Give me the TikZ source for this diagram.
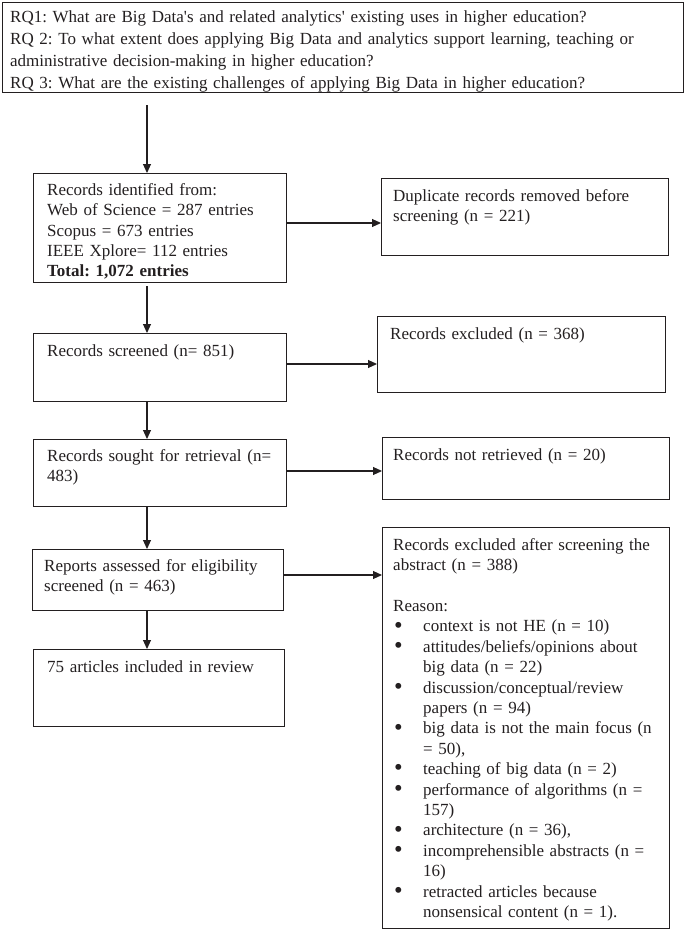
\documentclass[tikz,border=0pt]{standalone}
\usepackage{fontspec}
\setmainfont{Liberation Serif}
\usetikzlibrary{arrows.meta}
\definecolor{ink}{RGB}{35,31,32}
\frenchspacing
\newcommand{\fs}{\rule{0pt}{14pt}}
\newcommand{\bul}{\hspace*{1pt}\makebox[29pt][l]{\smash{\raisebox{-1.2pt}{\scalebox{1.45}{•}}}}}
\newcommand{\ind}{\hspace*{30pt}}
\begin{document}
\begin{tikzpicture}[x=1pt,y=-1pt,
  box/.style={draw=ink, line width=1.1pt, rectangle, inner sep=0pt, anchor=north west},
  txt/.style={inner sep=0pt, anchor=north west, text=ink, align=left, text width=#1,
    font=\fontsize{17}{20.4}\selectfont},
  txt/.default=300pt,
  arr/.style={draw=ink, line width=1.05pt, -{Triangle[length=9pt,width=8pt]}}]
\useasboundingbox (0,0) rectangle (685,939);
% boxes
\node[box, minimum width=681pt, minimum height=90pt] (rq) at (2,2) {};
\node[box, minimum width=253pt, minimum height=109pt] (id) at (33,173) {};
\node[box, minimum width=287pt, minimum height=77pt] (dup) at (381,178) {};
\node[box, minimum width=253pt, minimum height=68pt] (scr) at (33,333) {};
\node[box, minimum width=288pt, minimum height=76pt] (exc) at (377,316) {};
\node[box, minimum width=253pt, minimum height=67pt] (ret) at (33,439) {};
\node[box, minimum width=287pt, minimum height=62pt] (nret) at (382,437) {};
\node[box, minimum width=251pt, minimum height=61pt] (eli) at (32,549) {};
\node[box, minimum width=251pt, minimum height=77pt] (inc) at (33,649) {};
\node[box, minimum width=287pt, minimum height=401pt] (abs) at (382,527) {};
% texts
\node[txt=680pt, font=\fontsize{17}{22}\selectfont] (rqt) at (10,8) {\fs RQ1: What are Big Data\textquotesingle s and related analytics\textquotesingle{} existing uses in higher education?\\
RQ 2: To what extent does applying Big Data and analytics support learning, teaching or\\
administrative decision-making in higher education?\\
RQ 3: What are the existing challenges of applying Big Data in higher education?};
\node[txt] (idt) at (47,181) {\fs Records identified from:\\
Web of Science = 287 entries\\
Scopus = 673 entries\\
IEEE Xplore= 112 entries\\
\textbf{Total: 1,072 entries}};
\node[txt] (dupt) at (393,187) {\fs Duplicate records removed before\\ screening (n = 221)};
\node[txt] (scrt) at (47,342) {\fs Records screened (n= 851)};
\node[txt] (exct) at (390,325) {\fs Records excluded (n = 368)};
\node[txt] (rett) at (47,447) {\fs Records sought for retrieval (n=\\ 483)};
\node[txt] (nrett) at (393,446) {\fs Records not retrieved (n = 20)};
\node[txt] (elit) at (44,557) {\fs Reports assessed for eligibility\\ screened (n = 463)};
\node[txt] (inct) at (47,658) {\fs 75 articles included in review};
\node[txt] (abst) at (393,536) {\fs Records excluded after screening the\\
abstract (n = 388)\\
\mbox{}\\
Reason:\\
\bul context is not HE (n = 10)\\
\bul attitudes/beliefs/opinions about\\
\ind big data (n = 22)\\
\bul discussion/conceptual/review\\
\ind papers (n = 94)\\
\bul big data is not the main focus (n\\
\ind = 50),\\
\bul teaching of big data (n = 2)\\
\bul performance of algorithms (n =\\
\ind 157)\\
\bul architecture (n = 36),\\
\bul incomprehensible abstracts (n =\\
\ind 16)\\
\bul retracted articles because\\
\ind nonsensical content (n = 1).};
% connectors
\coordinate (ax) at (147,0);
\coordinate (y1) at (0,223);
\coordinate (y2) at (0,364);
\coordinate (y3) at (0,471);
\coordinate (y4) at (0,575);
\draw[arr, shorten <=12pt] (rq.south -| ax) -- (id.north -| ax);
\draw[arr, shorten <=3pt] (id.south -| ax) -- (scr.north -| ax);
\draw[arr] (scr.south -| ax) -- (ret.north -| ax);
\draw[arr] (ret.south -| ax) -- (eli.north -| ax);
\draw[arr] (eli.south -| ax) -- (inc.north -| ax);
\draw[arr] (id.east |- y1) -- (dup.west |- y1);
\draw[arr] (scr.east |- y2) -- (exc.west |- y2);
\draw[arr] (ret.east |- y3) -- (nret.west |- y3);
\draw[arr] (eli.east |- y4) -- (abs.west |- y4);
\end{tikzpicture}
\end{document}
